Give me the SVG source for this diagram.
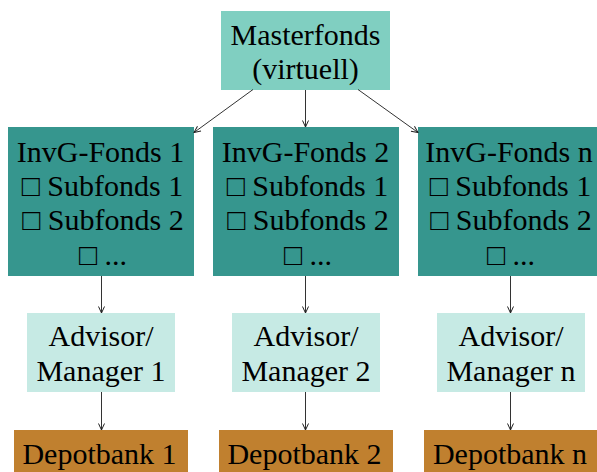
<svg xmlns="http://www.w3.org/2000/svg" width="597" height="472" viewBox="0 0 597 472">
<style>
text{font-size:30px;fill:#000;text-anchor:middle}
.master{fill:#80CFC1}
.fund{fill:#36968E}
.adv{fill:#C6EAE4}
.depot{fill:#C0802F}
.conn line{stroke:#333;stroke-width:1;fill:none;marker-end:url(#ah)}
</style>
<defs>
<marker id="ah" viewBox="0 0 8 8" refX="7.5" refY="4" markerWidth="8" markerHeight="8" markerUnits="userSpaceOnUse" orient="auto">
<path d="M1,1 L7.5,4 L1,7" fill="none" stroke="#222" stroke-width="1"/>
</marker>
</defs>
<rect width="597" height="472" fill="#fff"/>
<g font-family="'Liberation Serif', 'Times New Roman', 'DejaVu Serif', serif">
<g id="masterfonds">
<rect class="master" x="221" y="11" width="169" height="79"/>
<text x="305.5" y="45">Masterfonds</text>
<text x="305.5" y="79">(virtuell)</text>
</g>
<g id="fonds1">
<rect class="fund" x="8" y="127" width="186" height="149"/>
<text x="100.5" y="161.5">InvG-Fonds 1</text>
<text x="102.5" y="196">□ Subfonds 1</text>
<text x="103" y="230">□ Subfonds 2</text>
<text x="103" y="265">□ ...</text>
</g>
<g id="fonds2">
<rect class="fund" x="213" y="127" width="186" height="149"/>
<text x="305.5" y="161.5">InvG-Fonds 2</text>
<text x="307.5" y="196">□ Subfonds 1</text>
<text x="308" y="230">□ Subfonds 2</text>
<text x="308" y="265">□ ...</text>
</g>
<g id="fondsn">
<rect class="fund" x="418" y="127" width="179" height="149"/>
<text x="509" y="161.5">InvG-Fonds n</text>
<text x="510.5" y="196">□ Subfonds 1</text>
<text x="511" y="230">□ Subfonds 2</text>
<text x="511" y="265">□ ...</text>
</g>
<g id="advisor1">
<rect class="adv" x="27" y="313" width="148" height="79"/>
<text x="101" y="346">Advisor/</text>
<text x="101" y="380.5">Manager 1</text>
</g>
<g id="advisor2">
<rect class="adv" x="232" y="313" width="148" height="79"/>
<text x="306" y="346">Advisor/</text>
<text x="306" y="380.5">Manager 2</text>
</g>
<g id="advisorn">
<rect class="adv" x="437" y="313" width="148" height="79"/>
<text x="511" y="346">Advisor/</text>
<text x="511" y="380.5">Manager n</text>
</g>
<g id="depot1">
<rect class="depot" x="14" y="430" width="174" height="42"/>
<text x="99.5" y="463.5">Depotbank 1</text>
</g>
<g id="depot2">
<rect class="depot" x="219" y="430" width="174" height="42"/>
<text x="304.5" y="463.5">Depotbank 2</text>
</g>
<g id="depotn">
<rect class="depot" x="424" y="430" width="173" height="42"/>
<text x="510" y="463.5">Depotbank n</text>
</g>
</g>
<g class="conn" id="connectors">
<line x1="253" y1="89.5" x2="194" y2="132.5"/>
<line x1="305.5" y1="90" x2="305.5" y2="127"/>
<line x1="358" y1="89.5" x2="418" y2="132.5"/>
<line x1="101.5" y1="276" x2="101.5" y2="313"/>
<line x1="305.5" y1="276" x2="305.5" y2="313"/>
<line x1="510.5" y1="276" x2="510.5" y2="313"/>
<line x1="101.5" y1="392" x2="101.5" y2="430"/>
<line x1="305.5" y1="392" x2="305.5" y2="430"/>
<line x1="510.5" y1="392" x2="510.5" y2="430"/>
</g>
</svg>
